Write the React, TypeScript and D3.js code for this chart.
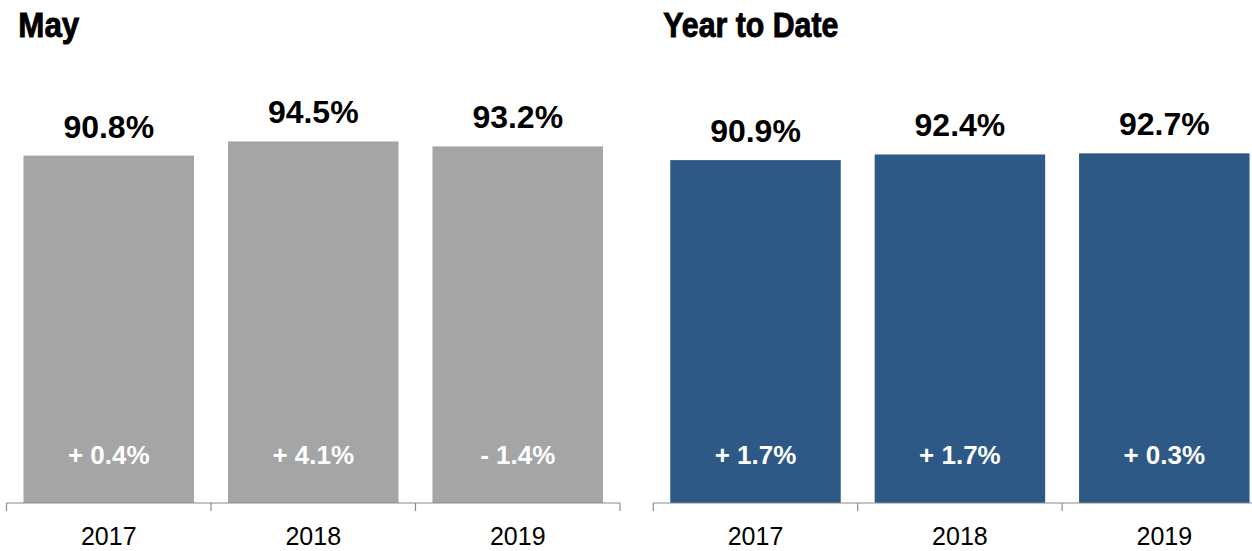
import React from "react";
import * as d3 from "d3";

const years = ["2017", "2018", "2019"];
const mayValues = [90.8, 94.5, 93.2];
const mayChanges = ["+ 0.4%", "+ 4.1%", "- 1.4%"];
const ytdValues = [90.9, 92.4, 92.7];
const ytdChanges = ["+ 1.7%", "+ 1.7%", "+ 0.3%"];

const FONT = "'Liberation Sans', Arial, Helvetica, sans-serif";
const BASE = 503;

type PanelProps = {
  title: string;
  titleWidth: number;
  titleX: number;
  x0: number;
  x1: number;
  yTop: number;
  values: number[];
  changes: string[];
  color: string;
};

function Panel({ title, titleWidth, titleX, x0, x1, yTop, values, changes, color }: PanelProps) {
  const x = d3.scaleBand<string>().domain(years).range([x0, x1]).paddingInner(0.166).paddingOuter(0.083);
  const xs = d3.scaleBand<string>().domain(years).range([x0, x1]).padding(0);
  const y = d3.scaleLinear().domain([0, 100]).range([BASE, yTop]);
  const ticks = [...years.map((d) => xs(d) as number), x1];
  return (
    <g>
      <text
        x={titleX}
        y={37}
        fontFamily={FONT}
        fontWeight="bold"
        fontSize={35}
        textLength={titleWidth}
        lengthAdjust="spacingAndGlyphs"
        fill="#000"
        stroke="#000"
        strokeWidth={0.9}
      >
        {title}
      </text>
      {years.map((yr, i) => {
        const bx = x(yr) as number;
        const bw = x.bandwidth();
        const cx = bx + bw / 2;
        return (
          <g key={yr}>
            <rect x={bx} y={y(values[i])} width={bw} height={BASE - y(values[i])} fill={color} />
            <text
              x={cx}
              y={y(values[i]) - 18}
              textAnchor="middle"
              fontFamily={FONT}
              fontWeight="bold"
              fontSize={32}
              fill="#000"
            >
              {values[i].toFixed(1) + "%"}
            </text>
            <text
              x={cx}
              y={464}
              textAnchor="middle"
              fontFamily={FONT}
              fontWeight="bold"
              fontSize={26}
              fill="#fff"
            >
              {changes[i]}
            </text>
            <text
              x={(xs(yr) as number) + xs.bandwidth() / 2}
              y={545}
              textAnchor="middle"
              fontFamily={FONT}
              fontSize={25}
              fill="#000"
            >
              {yr}
            </text>
          </g>
        );
      })}
      <line x1={x0} x2={x1} y1={BASE} y2={BASE} stroke="#8a8a8a" strokeWidth={1.2} />
      {ticks.map((t, i) => (
        <line key={i} x1={t} x2={t} y1={BASE} y2={BASE + 8} stroke="#8a8a8a" strokeWidth={1.2} />
      ))}
    </g>
  );
}

export default function App() {
  return (
    <svg
      width={1252}
      height={551}
      style={{ position: "absolute", left: 0, top: 0, background: "#fff" }}
    >
      <Panel
        title="May"
        titleWidth={61}
        titleX={18.3}
        x0={6.5}
        x1={620}
        yTop={120.4}
        values={mayValues}
        changes={mayChanges}
        color="#a5a5a5"
      />
      <Panel
        title="Year to Date"
        titleWidth={175}
        titleX={663.3}
        x0={653.3}
        x1={1266.5}
        yTop={125.8}
        values={ytdValues}
        changes={ytdChanges}
        color="#2e5986"
      />
    </svg>
  );
}
